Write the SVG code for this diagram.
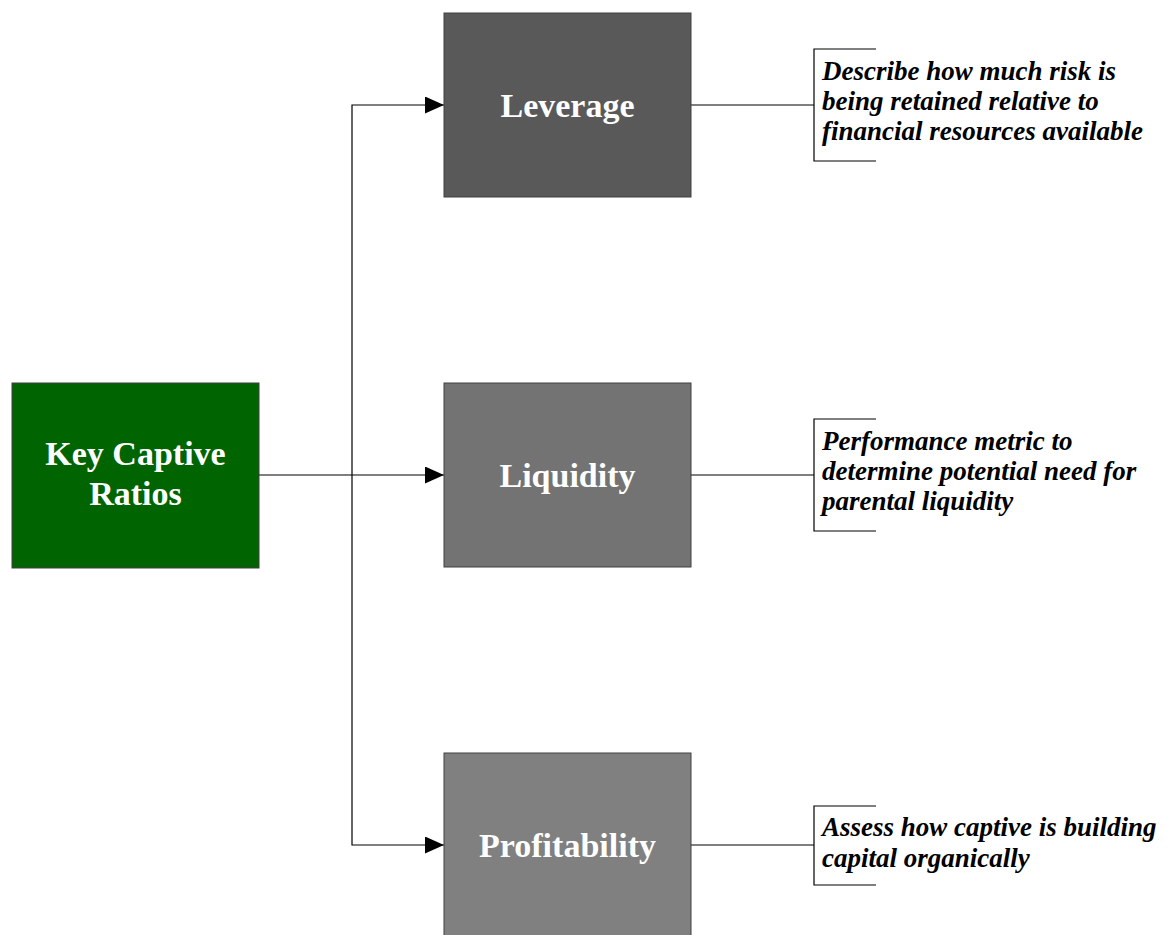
<svg xmlns="http://www.w3.org/2000/svg" width="1167" height="935" viewBox="0 0 1167 935">
<defs>
<style>
.box{stroke:#404040;stroke-width:1}
.nt{font-family:"Liberation Serif","Times New Roman",serif;font-weight:bold;font-size:34px;fill:#ffffff;text-anchor:middle}
.dt{font-family:"Liberation Serif","Times New Roman",serif;font-weight:bold;font-style:italic;font-size:27px;fill:#000000}
.ln{stroke:#000000;stroke-width:1.2;fill:none}
</style>
<marker id="ah" markerWidth="19" markerHeight="17" refX="19" refY="8.5" orient="auto" markerUnits="userSpaceOnUse">
<path d="M0,0 L19,8.5 L0,17 Z" fill="#000000"/>
</marker>
</defs>
<rect width="1167" height="935" fill="#ffffff"/>
<g id="connectors">
<path class="ln" d="M259,475 L444,475" marker-end="url(#ah)"/>
<path class="ln" d="M352,475 L352,105 L444,105" marker-end="url(#ah)"/>
<path class="ln" d="M352,475 L352,845 L444,845" marker-end="url(#ah)"/>
<path class="ln" d="M691,105 L814,105"/>
<path class="ln" d="M691,475 L814,475"/>
<path class="ln" d="M691,845 L814,845"/>
</g>
<g id="key-captive-ratios">
<rect class="box" x="12" y="383" width="247" height="185" fill="#006400"/>
<text class="nt" x="135.5" y="465">Key Captive</text>
<text class="nt" x="135.5" y="505">Ratios</text>
</g>
<g id="leverage">
<rect class="box" x="444" y="13" width="247" height="184" fill="#595959"/>
<text class="nt" x="567.5" y="117">Leverage</text>
</g>
<g id="liquidity">
<rect class="box" x="444" y="383" width="247" height="184" fill="#737373"/>
<text class="nt" x="567.5" y="487">Liquidity</text>
</g>
<g id="profitability">
<rect class="box" x="444" y="753" width="247" height="190" fill="#808080"/>
<text class="nt" x="567.5" y="857">Profitability</text>
</g>
<g id="leverage-note">
<path class="ln" d="M876,49 L814,49 L814,161 L876,161"/>
<text class="dt" x="822" y="80">Describe how much risk is</text>
<text class="dt" x="822" y="110">being retained relative to</text>
<text class="dt" x="822" y="140">financial resources available</text>
</g>
<g id="liquidity-note">
<path class="ln" d="M876,419 L814,419 L814,531 L876,531"/>
<text class="dt" x="822" y="450">Performance metric to</text>
<text class="dt" x="822" y="480">determine potential need for</text>
<text class="dt" x="822" y="510">parental liquidity</text>
</g>
<g id="profitability-note">
<path class="ln" d="M876,806 L814,806 L814,885 L876,885"/>
<text class="dt" x="822" y="836">Assess how captive is building</text>
<text class="dt" x="822" y="867">capital organically</text>
</g>
</svg>
